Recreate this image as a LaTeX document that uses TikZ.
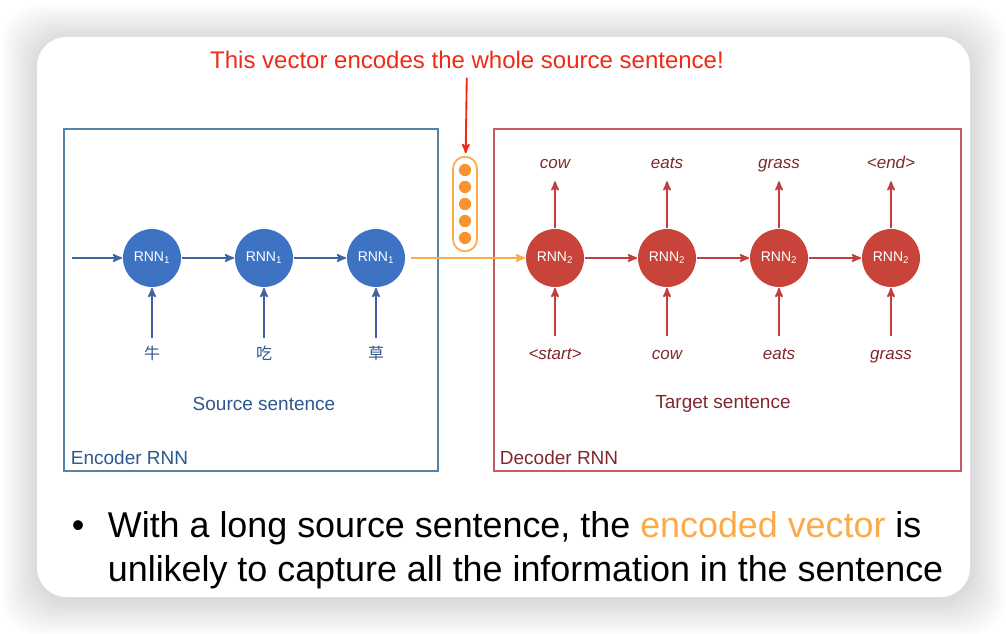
\documentclass[tikz,border=0pt]{standalone}
\usepackage{xcolor}
\usepackage{fontspec}
\setmainfont{Liberation Sans}
\newfontfamily\cjkfont{Noto Sans CJK SC}
\usepackage{tikz}
\usetikzlibrary{arrows,positioning}

\definecolor{encfill}{RGB}{62,115,196}
\definecolor{encline}{RGB}{84,132,166}
\definecolor{encarrow}{RGB}{62,100,160}
\definecolor{enctext}{RGB}{46,88,142}
\definecolor{decfill}{RGB}{200,68,58}
\definecolor{decline}{RGB}{196,92,96}
\definecolor{decarrow}{RGB}{192,62,62}
\definecolor{dectext}{RGB}{128,40,46}
\definecolor{vecline}{RGB}{250,172,72}
\definecolor{vecdot}{RGB}{247,148,48}
\definecolor{titlered}{RGB}{240,42,22}

\begin{document}
\begin{tikzpicture}[x=0.75pt,y=-0.75pt,>=stealth',auto,node distance=84pt,line width=1.4pt,
    main node/.style={circle,minimum size=43.5pt,inner sep=0pt,text=white,font=\fontsize{10.5}{12}\selectfont},
    enc node/.style={main node,fill=encfill},
    dec node/.style={main node,fill=decfill},
    enc word/.style={text=enctext,font=\fontsize{12}{14}\cjkfont,inner sep=1pt},
    dec word/.style={text=dectext,font=\fontsize{12.75}{14}\selectfont\itshape,inner sep=1pt,text height=9.5pt,text depth=3pt},
    box label/.style={font=\fontsize{14.25}{16}\selectfont},
    bullet text/.style={font=\fontsize{26.9}{30}\selectfont,anchor=base west,inner sep=0pt}]
    \useasboundingbox (0,0) rectangle (1006,634);
    \fill[white] (0,0) rectangle (1006,634);

    % card with soft shadow
    \foreach \s in {1,...,18}
        \fill[black,opacity=0.008,rounded corners=28pt] (37-2*\s,37-1.9*\s+2) rectangle (970+2*\s,597+1.9*\s+4);
    \fill[white,rounded corners=22pt] (37,37) rectangle (970,597);

    % the two boxes
    \draw[encline,line width=1.3pt] (64,129) rectangle (438,471);
    \draw[decline,line width=1.3pt] (494,129) rectangle (961,471);
    \node[box label,text=enctext,anchor=base west,inner sep=0pt] (enclab) at (70,464) {Encoder RNN};
    \node[box label,text=dectext,anchor=base west,inner sep=0pt] (declab) at (499,464) {Decoder RNN};
    \node[box label,text=enctext] (src) at (264,404) {Source sentence};
    \node[box label,text=dectext] (tgt) at (723,404) {Target sentence};

    % encoder
    \node[enc node] (e1) at (152,258) {RNN\textsubscript{1}};
    \node[enc node] (e2) [right of=e1] {RNN\textsubscript{1}};
    \node[enc node] (e3) [right of=e2] {RNN\textsubscript{1}};
    \node[enc word] (w1) [below of=e1,node distance=71.25pt] {牛};
    \node[enc word] (w2) [below of=e2,node distance=71.25pt] {吃};
    \node[enc word] (w3) [below of=e3,node distance=71.25pt] {草};
    \coordinate (ein) at (72,258);

    \path[->,encarrow]
    (ein) edge (e1)
    (e1) edge (e2)
    (e2) edge (e3)
    (w1) edge[shorten <=4pt] (e1)
    (w2) edge[shorten <=4pt] (e2)
    (w3) edge[shorten <=4pt] (e3);

    % decoder
    \node[dec node] (d1) at (555,258) {RNN\textsubscript{2}};
    \node[dec node] (d2) [right of=d1] {RNN\textsubscript{2}};
    \node[dec node] (d3) [right of=d2] {RNN\textsubscript{2}};
    \node[dec node] (d4) [right of=d3] {RNN\textsubscript{2}};
    \node[dec word] (i1) [below of=d1,node distance=72.5pt] {<start>};
    \node[dec word] (i2) [below of=d2,node distance=72.5pt] {cow};
    \node[dec word] (i3) [below of=d3,node distance=72.5pt] {eats};
    \node[dec word] (i4) [below of=d4,node distance=72.5pt] {grass};
    \node[dec word] (o1) [above of=d1,node distance=70pt] {cow};
    \node[dec word] (o2) [above of=d2,node distance=70pt] {eats};
    \node[dec word] (o3) [above of=d3,node distance=70pt] {grass};
    \node[dec word] (o4) [above of=d4,node distance=70pt] {<end>};

    \path[->,decarrow]
    (d1) edge (d2)
    (d2) edge (d3)
    (d3) edge (d4)
    (i1) edge[shorten <=6pt] (d1)
    (i2) edge[shorten <=6pt] (d2)
    (i3) edge[shorten <=6pt] (d3)
    (i4) edge[shorten <=6pt] (d4)
    (d1) edge[shorten >=4.5pt] (o1)
    (d2) edge[shorten >=4.5pt] (o2)
    (d3) edge[shorten >=4.5pt] (o3)
    (d4) edge[shorten >=4.5pt] (o4);

    % encoded vector
    \node[draw=vecline,line width=1.3pt,rounded corners=9pt,minimum width=18pt,minimum height=71pt] (vec) at (465,204) {};
    \foreach \k in {0,...,4}
        \fill[vecdot] (465,170+17*\k) circle (4.6pt);
    \node[text=titlered,font=\fontsize{18}{20}\selectfont,inner sep=2pt] (title) at (467,60) {This vector encodes the whole source sentence!};
    \path[->,titlered] (title) edge[shorten <=4pt,shorten >=2pt] (vec);
    \path[->,vecline] (e3) edge[shorten <=4pt] (d1);

    % bullet
    \node[bullet text] (dot) at (71,537) {\textbullet};
    \node[bullet text] (line1) at (107,537) {With a long source sentence, the \textcolor{vecline}{encoded vector} is};
    \node[bullet text] (line2) at (107,581) {unlikely to capture all the information in the sentence};
\end{tikzpicture}
\end{document}
